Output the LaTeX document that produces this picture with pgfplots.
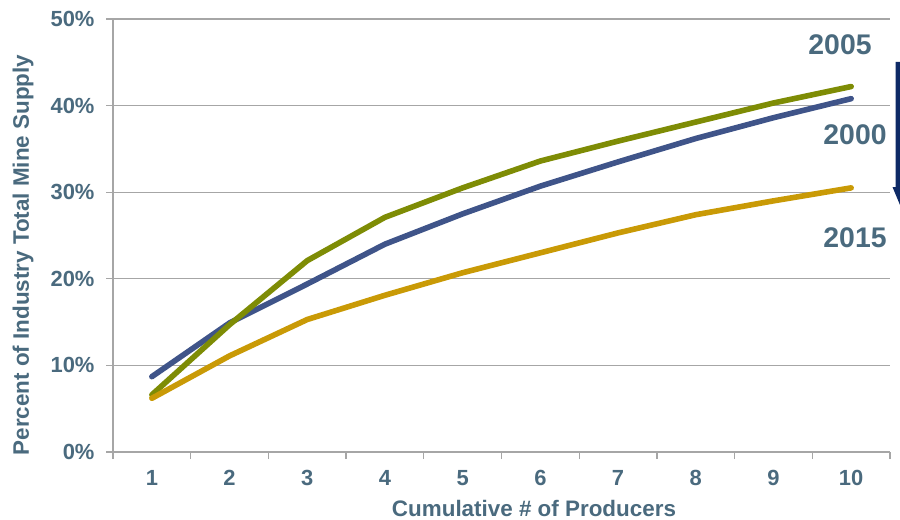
\documentclass[border=0pt]{standalone}
\usepackage{pgfplots}
\pgfplotsset{compat=1.18}
\usepackage{fontspec}
\setmainfont{Liberation Sans}
\definecolor{txt}{HTML}{4A6A7E}
\definecolor{c2000}{HTML}{3F5489}
\definecolor{c2005}{HTML}{7E8C05}
\definecolor{c2015}{HTML}{C99A06}
\definecolor{gridc}{HTML}{A6A6A6}
\definecolor{navy}{HTML}{0E2A66}
\begin{document}
\begin{tikzpicture}[x=1bp,y=1bp]
\path (0,0) rectangle (900,519);
\begin{axis}[
  at={(113bp,67bp)}, anchor=south west,
  scale only axis, width=777bp, height=433bp,
  xmin=0.5, xmax=10.5, ymin=0, ymax=50,
  axis lines*=left,
  axis line style={gridc, line width=1.3bp},
  xtick={1,...,10},
  minor xtick={0.5,1.5,...,10.5},
  major x tick style={draw=none},
  minor tick length=7bp,
  ytick={0,10,...,50},
  major tick length=7bp,
  tick align=outside,
  tick style={gridc, line width=1.3bp},
  ymajorgrids, grid style={gridc, line width=1.3bp},
  yticklabel={\pgfmathprintnumber{\tick}\%},
  /pgf/number format/assume math mode=true,
  ticklabel style={font=\fontsize{22}{24}\selectfont\bfseries, text=txt},
  xticklabel style={yshift=-8bp},
  yticklabel style={xshift=-8bp},
  clip=false,
]
\addplot[c2000, line width=5.6bp, line join=round, line cap=round] coordinates {
(1,8.7)(2,14.9)(3,19.4)(4,24.0)(5,27.5)(6,30.7)(7,33.5)(8,36.2)(9,38.6)(10,40.8)};
\addplot[c2005, line width=5.6bp, line join=round, line cap=round] coordinates {
(1,6.6)(2,14.7)(3,22.1)(4,27.1)(5,30.5)(6,33.6)(7,35.9)(8,38.1)(9,40.3)(10,42.2)};
\addplot[c2015, line width=5.6bp, line join=round, line cap=round] coordinates {
(1,6.2)(2,11.1)(3,15.3)(4,18.1)(5,20.7)(6,23.0)(7,25.3)(8,27.4)(9,29.0)(10,30.5)};
\end{axis}
\node[text=txt, font=\fontsize{22.5}{24}\selectfont\bfseries, rotate=90] at (23,264) {Percent of Industry Total Mine Supply};
\node[text=txt, font=\fontsize{22.5}{24}\selectfont\bfseries] at (534,11) {Cumulative \# of Producers};
\node[text=txt, font=\fontsize{28.5}{32}\selectfont\bfseries] at (840,474) {2005};
\node[text=txt, font=\fontsize{28.5}{32}\selectfont\bfseries] at (855,384) {2000};
\node[text=txt, font=\fontsize{28.5}{32}\selectfont\bfseries] at (855,281) {2015};
\fill[navy] (895.5,457) -- (900,457) -- (900,314) -- (892.5,332) -- (895.5,332) -- cycle;
\end{tikzpicture}
\end{document}
